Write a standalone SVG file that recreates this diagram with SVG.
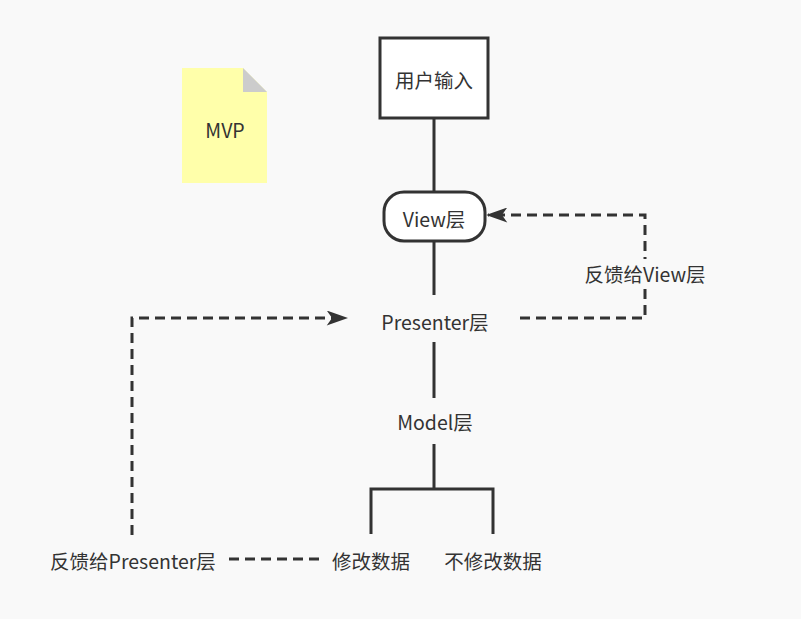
<svg xmlns="http://www.w3.org/2000/svg" width="801" height="619" viewBox="0 0 801 619">
<style>
text{font-family:"Microsoft YaHei","Noto Sans CJK SC",sans-serif;font-size:19.5px;fill:#333;text-anchor:middle;dominant-baseline:central}
.ln{stroke:#333;stroke-width:3;fill:none}
.d{stroke:#333;stroke-width:3;fill:none;stroke-dasharray:10 6}
</style>
<defs><marker id="a" viewBox="0 0 20 14" refX="18" refY="7" markerWidth="22" markerHeight="15" markerUnits="userSpaceOnUse" orient="auto"><path d="M0,0 L20,7 L0,14 L5,7 Z" fill="#333"/></marker></defs>
<rect width="801" height="619" fill="#f9f9f9"/>
<g id="connectors">
<path class="ln" d="M434,118 V192 M434,241 V295 M434,342 V398 M434,444 V489 M371,534 V489 H493 V534"/>
<path class="d" d="M520,318 H645 V215 H488" marker-end="url(#a)"/>
<path class="d" d="M132,535 V318 H346" marker-end="url(#a)"/>
<path class="d" d="M229,559 H321"/>
</g>
<g id="note"><path d="M182,68 H243 L267,92 V183 H182 Z" fill="#ffffaa"/><path d="M243,68 L267,92 H243 Z" fill="#ccc"/><text x="225" y="129">MVP</text></g>
<g id="input"><rect x="380" y="38" width="108" height="80" fill="#fff" stroke="#333" stroke-width="3"/><text x="434" y="79">用户输入</text></g>
<g id="view"><rect x="384" y="192" width="101" height="49" rx="20" fill="#fff" stroke="#333" stroke-width="3"/><text x="434" y="218">View层</text></g>
<g id="presenter"><text x="435" y="321">Presenter层</text></g>
<g id="model"><text x="435" y="421">Model层</text></g>
<g id="modify"><text x="371" y="560">修改数据</text></g>
<g id="nomodify"><text x="493" y="560">不修改数据</text></g>
<g id="fbv"><rect x="578" y="259" width="134" height="30" fill="#f9f9f9"/><text x="645" y="273">反馈给View层</text></g>
<g id="fbp"><text x="133" y="560">反馈给Presenter层</text></g>
</svg>
